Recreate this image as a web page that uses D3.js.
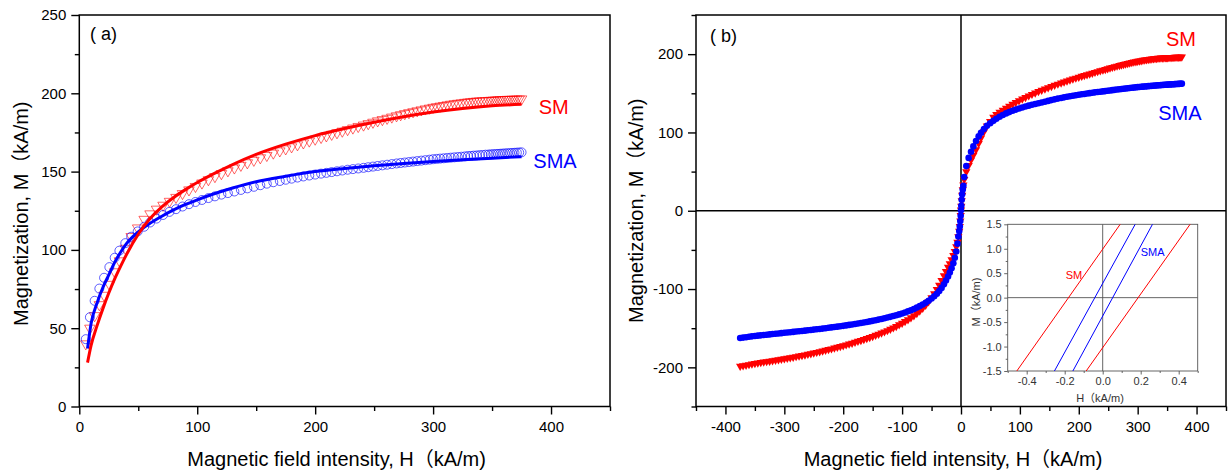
<!DOCTYPE html>
<html><head><meta charset="utf-8">
<script src="https://cdn.jsdelivr.net/npm/d3@7"></script>
<style>
body{margin:0;background:#fff}
text{font-family:"Liberation Sans",Arial,"Noto Sans CJK SC",sans-serif}
</style>
</head><body>
<svg id="chart" width="1231" height="474"></svg>
<script>
// ---------------- DATA ----------------
// Panel (a): fitted curves
const fitH   = [7, 10, 15, 20, 25, 30, 35, 40, 50, 60, 70, 80, 90, 100, 115, 130, 150, 175, 200, 225, 250, 275, 300, 325, 350, 375];
const fitSM  = [28, 39, 51.5, 62.5, 72.5, 81.5, 89.5, 97, 110, 120, 127.5, 133.5, 138.5, 143, 149, 154.5, 161, 167.5, 173, 177.5, 181.5, 185, 188, 190.3, 192, 193];
const fitSMA = [37, 53, 66, 76, 84, 92, 98.5, 104, 111.5, 117, 121.5, 125.5, 129, 132, 136, 139.5, 143.5, 147, 150, 152, 153.7, 155.2, 156.5, 157.6, 158.6, 159.5];

// Panel (a): measured points (first quadrant)
const dataH = [5.5, 9, 13, 17, 21, 25.5, 30, 34, 39, 44,
  49.5, 55, 60, 65.5, 71, 76.5, 82, 87.5, 93, 98.5,
  104, 109.5, 115, 120.5, 126, 131.5, 137, 142.5, 148, 153.5,
  159, 164.5, 170, 175, 180, 185, 190, 195, 200, 205,
  209.5, 214, 218.5, 223, 227.5, 232, 236.5, 241, 245, 249,
  253, 257, 261, 265, 269, 272.5, 276, 279.5, 283, 286.5,
  290, 293.5, 297, 300, 303, 306, 309, 312, 315, 318,
  321, 324, 327, 329.5, 332, 334.5, 337, 339.5, 342, 344.5,
  347, 349, 351, 353, 355, 357, 359, 361, 363, 365,
  367, 369, 371, 373, 375];
const dataSM = [40, 50, 58, 65, 71, 78, 86, 93, 101, 108.5,
  114, 119.5, 123, 126, 128.5, 131, 133.5, 136, 138.3, 140.5,
  142.7, 144.8, 146.8, 148.7, 150.5, 152.3, 154, 155.6, 157.2, 158.8,
  160.3, 161.8, 163.2, 164.5, 165.8, 167.1, 168.3, 169.5, 170.7, 171.8,
  172.8, 173.8, 174.8, 175.8, 176.8, 177.8, 178.8, 179.7, 180.6, 181.5,
  182.4, 183.2, 184, 184.8, 185.6, 186.3, 187, 187.6, 188.2, 188.8,
  189.4, 190, 190.5, 191, 191.4, 191.8, 192.2, 192.6, 193, 193.3,
  193.6, 193.9, 194.2, 194.4, 194.6, 194.8, 195, 195.1, 195.2, 195.3,
  195.4, 195.5, 195.6, 195.7, 195.8, 195.9, 196, 196, 196.1, 196.1,
  196.2, 196.2, 196.3, 196.3, 196.4];
const dataSMA = [43, 57, 67.5, 75.3, 82.2, 89, 95, 99.5, 104.3, 108.4,
  111.8, 114.8, 117.5, 120, 122.3, 124.3, 126, 127.7, 129.2, 130.6,
  131.9, 133.1, 134.2, 135.3, 136.3, 137.3, 138.3, 139.3, 140.3, 141.3,
  142.3, 143.2, 144, 144.8, 145.5, 146.2, 146.9, 147.5, 148.1, 148.7,
  149.2, 149.7, 150.2, 150.7, 151.2, 151.6, 152, 152.4, 152.8, 153.2,
  153.6, 154, 154.4, 154.8, 155.2, 155.5, 155.8, 156.1, 156.4, 156.7,
  157, 157.3, 157.6, 157.9, 158.1, 158.3, 158.5, 158.7, 158.9, 159.1,
  159.3, 159.5, 159.7, 159.9, 160, 160.2, 160.3, 160.5, 160.6, 160.8,
  160.9, 161, 161.1, 161.2, 161.3, 161.4, 161.5, 161.6, 161.7, 161.8,
  161.9, 162, 162.1, 162.2, 162.3];

// Panel (b): points near the origin
const originH   = [0, 0.5, 1.2, 2, 3, 4];
const originSM  = [1, 6, 13, 20, 27, 33];
const originSMA = [0.5, 6.4, 14, 21, 27, 32];

// Panel (b): third-quadrant branch
const negH = [-0.5, -1.2, -2, -3, -4.5, -6, -8, -10.5, -13, -16,
  -19, -22, -25.5, -29, -33, -37, -41, -45.5, -50, -55,
  -60, -65, -70, -75, -80, -85, -90, -95, -100, -105,
  -110, -115, -120, -125, -130, -135, -140, -145, -150, -155,
  -160, -165, -170, -175, -180, -185, -190, -195, -200, -205,
  -210, -215, -220, -225, -230, -235, -240, -245, -250, -255,
  -260, -265, -270, -275, -280, -285, -290, -295, -300, -305,
  -310, -315, -320, -325, -330, -335, -340, -345, -350, -355,
  -360, -365, -370, -375];
const negSM = [-6, -13, -20, -26, -33, -40, -46, -52, -57, -62.5,
  -67.5, -72, -77.5, -83, -89, -95, -100.5, -106, -111, -116,
  -120.5, -124.5, -128, -131, -134, -136.5, -139, -141.3, -143.5, -145.6,
  -147.6, -149.5, -151.3, -153, -154.6, -156.1, -157.6, -159, -160.4, -161.7,
  -163, -164.3, -165.5, -166.7, -167.9, -169, -170.1, -171.2, -172.3, -173.3,
  -174.3, -175.3, -176.3, -177.2, -178.1, -179, -179.9, -180.8, -181.6, -182.4,
  -183.2, -184, -184.8, -185.5, -186.2, -186.9, -187.6, -188.3, -189, -189.6,
  -190.2, -190.8, -191.4, -192, -192.6, -193.2, -193.8, -194.4, -195, -195.7,
  -196.4, -197.1, -197.8, -198.5];
const negSMA = [-6.4, -13, -20, -26, -33, -42, -52, -60, -67, -73.5,
  -79, -84, -89, -94, -98.5, -102.5, -106, -109.2, -112, -115,
  -117.5, -119.8, -121.8, -123.7, -125.4, -127, -128.5, -129.9, -131.2, -132.4,
  -133.5, -134.5, -135.5, -136.4, -137.3, -138.2, -139, -139.8, -140.6, -141.3,
  -142, -142.7, -143.4, -144, -144.6, -145.2, -145.8, -146.4, -147, -147.5,
  -148, -148.5, -149, -149.5, -150, -150.5, -151, -151.4, -151.8, -152.3,
  -152.7, -153.1, -153.5, -153.9, -154.3, -154.7, -155.1, -155.5, -155.9, -156.3,
  -156.7, -157.1, -157.5, -157.9, -158.3, -158.7, -159.1, -159.5, -159.9, -160.4,
  -160.9, -161.5, -162, -162.6];

// Inset: loop branches near origin (H, M) end points
const insetSM  = [[[-0.452, -1.5], [0.092, 1.5]], [[-0.087, -1.5], [0.46, 1.5]]];
const insetSMA = [[[-0.254, -1.5], [0.171, 1.5]], [[-0.157, -1.5], [0.262, 1.5]]];

// Ticks
const aXTicks = [0, 100, 200, 300, 400];
const aXMinor = [50, 150, 250, 350, 450];
const aYTicks = [0, 50, 100, 150, 200, 250];
const aYMinor = [25, 75, 125, 175, 225];
const bXTicks = [-400, -300, -200, -100, 0, 100, 200, 300, 400];
const bXMinor = [-450, -350, -250, -150, -50, 50, 150, 250, 350, 450];
const bYTicks = [-200, -100, 0, 100, 200];
const bYMinor = [-250, -150, -50, 50, 150, 250];
const iXTicks = [-0.4, -0.2, 0, 0.2, 0.4];
const iXMinor = [-0.5, -0.3, -0.1, 0.1, 0.3, 0.5];
const iYTicks = [-1.5, -1.0, -0.5, 0, 0.5, 1.0, 1.5];
const iYMinor = [-1.25, -0.75, -0.25, 0.25, 0.75, 1.25];

// ---------------- DRAW ----------------
const svg = d3.select("#chart");
const RED = "#ff0000", BLUE = "#0000ff";

function axes(xs, ys, xMaj, xMin, yMaj, yMin, o) {
  const [xa, xb] = xs.range();
  const [yb, ya] = ys.range();
  const fx = o.fx || (d => String(d));
  const fy = o.fy || (d => String(d));
  function style(g) {
    g.select(".domain").remove();
    g.selectAll("line").attr("stroke", o.color).attr("stroke-width", o.tw);
    g.selectAll("text").attr("font-size", o.fs).attr("fill", o.tc)
      .attr("font-family", '"Liberation Sans", Arial, sans-serif');
  }
  svg.append("g").attr("transform", `translate(0,${yb})`)
    .call(d3.axisBottom(xs).tickValues(xMin).tickSize(o.minor).tickFormat(""))
    .call(style);
  svg.append("g").attr("transform", `translate(0,${yb})`)
    .call(d3.axisBottom(xs).tickValues(xMaj).tickSize(o.major).tickPadding(o.padX).tickFormat(fx))
    .call(style);
  svg.append("g").attr("transform", `translate(${xa},0)`)
    .call(d3.axisLeft(ys).tickValues(yMin).tickSize(o.minor).tickFormat(""))
    .call(style);
  svg.append("g").attr("transform", `translate(${xa},0)`)
    .call(d3.axisLeft(ys).tickValues(yMaj).tickSize(o.major).tickPadding(o.padY).tickFormat(fy))
    .call(style);
  svg.append("rect").attr("x", xa).attr("y", ya).attr("width", xb - xa).attr("height", yb - ya)
    .attr("fill", "none").attr("stroke", o.color).attr("stroke-width", o.fw);
}

function zip(h, m) { return h.map((v, i) => [v, m[i]]); }

// ---- Panel (a) ----
const xA = d3.scaleLinear().domain([0, 450]).range([79.3, 610]);
const yA = d3.scaleLinear().domain([0, 250]).range([406.5, 15]);

axes(xA, yA, aXTicks, aXMinor, aYTicks, aYMinor,
  {color: "#000", tc: "#000", tw: 1.4, fw: 1.5, fs: 15, major: 8, minor: 4.5, padX: 7, padY: 5});

const triDown = d3.symbol().type(d3.symbolTriangle).size(48);
svg.append("g").selectAll("path").data(zip(dataH, dataSM)).join("path")
  .attr("d", triDown)
  .attr("transform", d => `translate(${xA(d[0])},${yA(d[1])}) rotate(180)`)
  .attr("fill", "none").attr("stroke", RED).attr("stroke-width", 0.8).attr("stroke-opacity", 0.75);
svg.append("g").selectAll("circle").data(zip(dataH, dataSMA)).join("circle")
  .attr("cx", d => xA(d[0])).attr("cy", d => yA(d[1])).attr("r", 4.5)
  .attr("fill", "none").attr("stroke", BLUE).attr("stroke-width", 0.9).attr("stroke-opacity", 0.7);

const lineA = d3.line().x(d => xA(d[0])).y(d => yA(d[1])).curve(d3.curveMonotoneX);
svg.append("path").attr("d", lineA(zip(fitH, fitSMA))).attr("fill", "none")
  .attr("stroke", BLUE).attr("stroke-width", 3);
svg.append("path").attr("d", lineA(zip(fitH, fitSM))).attr("fill", "none")
  .attr("stroke", RED).attr("stroke-width", 3);

svg.append("text").attr("x", xA(389.5)).attr("y", yA(187)).attr("font-size", 20).attr("fill", RED).text("SM");
svg.append("text").attr("x", xA(385)).attr("y", yA(152)).attr("font-size", 20).attr("fill", BLUE).text("SMA");
svg.append("text").attr("x", 90).attr("y", 39.5).attr("font-size", 18).text("( a)");

svg.append("text").attr("x", (xA.range()[0] + xA.range()[1]) / 2 - 8).attr("y", 466)
  .attr("text-anchor", "middle").attr("font-size", 20).text("Magnetic field intensity, H（kA/m)");
svg.append("text").attr("transform", `translate(28,${(yA.range()[0] + yA.range()[1]) / 2 + 3}) rotate(-90)`)
  .attr("text-anchor", "middle").attr("font-size", 20).text("Magnetization, M（kA/m)");

// ---- Panel (b) ----
const xB = d3.scaleLinear().domain([-450, 450]).range([696, 1226]);
const yB = d3.scaleLinear().domain([-250, 250]).range([406.5, 15]);

axes(xB, yB, bXTicks, bXMinor, bYTicks, bYMinor,
  {color: "#000", tc: "#000", tw: 1.4, fw: 1.5, fs: 15, major: 8, minor: 4.5, padX: 7, padY: 5});

svg.append("line").attr("x1", xB(-450)).attr("x2", xB(450)).attr("y1", yB(0)).attr("y2", yB(0))
  .attr("stroke", "#000").attr("stroke-width", 1.5);
svg.append("line").attr("x1", xB(0)).attr("x2", xB(0)).attr("y1", yB(250)).attr("y2", yB(-250))
  .attr("stroke", "#000").attr("stroke-width", 1.5);

const loopSM  = zip(negH, negSM).concat(zip(originH, originSM), zip(dataH, dataSM));
const loopSMA = zip(negH, negSMA).concat(zip(originH, originSMA), zip(dataH, dataSMA));

const triSmall = d3.symbol().type(d3.symbolTriangle).size(30);
svg.append("g").selectAll("path").data(loopSM).join("path")
  .attr("d", triSmall)
  .attr("transform", d => `translate(${xB(d[0])},${yB(d[1])}) rotate(180)`)
  .attr("fill", RED);
svg.append("g").selectAll("circle").data(loopSMA).join("circle")
  .attr("cx", d => xB(d[0])).attr("cy", d => yB(d[1])).attr("r", 3.3)
  .attr("fill", BLUE);

svg.append("text").attr("x", xB(348)).attr("y", yB(211)).attr("font-size", 20).attr("fill", RED).text("SM");
svg.append("text").attr("x", xB(335)).attr("y", yB(116)).attr("font-size", 20).attr("fill", BLUE).text("SMA");
svg.append("text").attr("x", 710).attr("y", 42).attr("font-size", 18).text("( b)");

svg.append("text").attr("x", (xB.range()[0] + xB.range()[1]) / 2 - 8).attr("y", 466)
  .attr("text-anchor", "middle").attr("font-size", 20).text("Magnetic field intensity, H（kA/m)");
svg.append("text").attr("transform", `translate(643,${(yB.range()[0] + yB.range()[1]) / 2}) rotate(-90)`)
  .attr("text-anchor", "middle").attr("font-size", 20).text("Magnetization, M（kA/m)");

// ---- Inset ----
const xI = d3.scaleLinear().domain([-0.5, 0.5]).range([1007.7, 1197.7]);
const yI = d3.scaleLinear().domain([-1.5, 1.5]).range([371, 224.3]);
svg.append("rect").attr("x", 1007.7).attr("y", 224.3).attr("width", 190).attr("height", 146.7).attr("fill", "#fff");
svg.append("line").attr("x1", xI(-0.5)).attr("x2", xI(0.5)).attr("y1", yI(0)).attr("y2", yI(0))
  .attr("stroke", "#555").attr("stroke-width", 0.9);
svg.append("line").attr("x1", xI(0)).attr("x2", xI(0)).attr("y1", yI(1.5)).attr("y2", yI(-1.5))
  .attr("stroke", "#555").attr("stroke-width", 0.9);
axes(xI, yI, iXTicks, iXMinor, iYTicks, iYMinor,
  {color: "#555", tc: "#333", tw: 0.9, fw: 0.9, fs: 11, major: 3.5, minor: 2, padX: 3, padY: 2.5,
   fx: d => d.toFixed(1), fy: d => d.toFixed(1)});

const lineI = d3.line().x(d => xI(d[0])).y(d => yI(d[1]));
svg.append("g").selectAll("path").data(insetSM).join("path").attr("d", lineI)
  .attr("fill", "none").attr("stroke", RED).attr("stroke-width", 1);
svg.append("g").selectAll("path").data(insetSMA).join("path").attr("d", lineI)
  .attr("fill", "none").attr("stroke", BLUE).attr("stroke-width", 1);

svg.append("text").attr("x", xI(-0.195)).attr("y", yI(0.38)).attr("font-size", 11).attr("fill", RED).text("SM");
svg.append("text").attr("x", xI(0.2)).attr("y", yI(0.86)).attr("font-size", 11).attr("fill", BLUE).text("SMA");
svg.append("text").attr("x", 1100).attr("y", 402).attr("text-anchor", "middle").attr("font-size", 11).attr("fill", "#333")
  .text("H（kA/m)");
svg.append("text").attr("transform", `translate(980,302) rotate(-90)`).attr("text-anchor", "middle")
  .attr("font-size", 11).attr("fill", "#333").text("M（kA/m)");
</script>
</body></html>
